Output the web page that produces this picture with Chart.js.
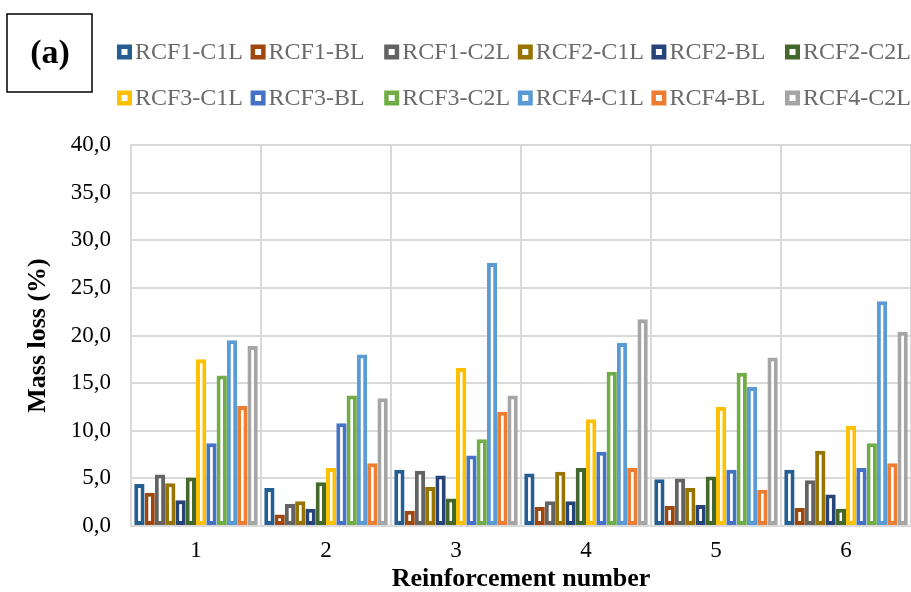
<!DOCTYPE html>
<html>
<head>
<meta charset="utf-8">
<script src="https://cdn.jsdelivr.net/npm/chart.js@4/dist/chart.umd.min.js"></script>
<style>
  html, body { margin: 0; padding: 0; background: #fff; }
  #wrap { width: 911px; height: 592px; }
</style>
</head>
<body>
<div id="wrap"><canvas id="massChart"></canvas></div>
<script>
const categories = ["1", "2", "3", "4", "5", "6"];

const rcf1C1L = [4.4, 4.0, 5.9, 5.5, 4.9, 5.9];
const rcf1BL  = [3.5, 1.2, 1.6, 2.0, 2.1, 1.9];
const rcf1C2L = [5.4, 2.3, 5.8, 2.6, 5.0, 4.8];
const rcf2C1L = [4.5, 2.6, 4.1, 5.7, 4.0, 7.9];
const rcf2BL  = [2.7, 1.8, 5.3, 2.6, 2.2, 3.3];
const rcf2C2L = [5.1, 4.6, 2.9, 6.1, 5.2, 1.8];
const rcf3C1L = [17.5, 6.1, 16.6, 11.2, 12.5, 10.5];
const rcf3BL  = [8.7, 10.8, 7.4, 7.8, 5.9, 6.1];
const rcf3C2L = [15.8, 13.7, 9.1, 16.2, 16.1, 8.7];
const rcf4C1L = [19.5, 18.0, 27.6, 19.2, 14.6, 23.6];
const rcf4BL  = [12.6, 6.6, 12.0, 6.1, 3.8, 6.6];
const rcf4C2L = [18.9, 13.4, 13.7, 21.7, 17.7, 20.4];

const yTicks = [0, 5, 10, 15, 20, 25, 30, 35, 40];

const serif = "'Liberation Serif', 'Times New Roman', serif";

function series(label, data, color) {
    return {
        label: label,
        data: data,
        backgroundColor: "#ffffff",
        borderColor: color,
        borderWidth: 4,
        borderSkipped: false,
        categoryPercentage: 0.95,
        barPercentage: 1.0
    };
}

// legend in two rows of six, columns aligned like the Excel original
const gridLegend = {
    id: "gridLegend",
    afterDraw(chart) {
        const ctx = chart.ctx;
        ctx.save();

        // "(a)" panel label
        ctx.strokeStyle = "#000";
        ctx.lineWidth = 1.5;
        ctx.strokeRect(7, 14, 85, 78);
        ctx.fillStyle = "#000";
        ctx.font = "bold 34px " + serif;
        ctx.textAlign = "center";
        ctx.textBaseline = "middle";
        ctx.fillText("(a)", 50, 54);

        ctx.textAlign = "left";
        ctx.font = "24px " + serif;
        chart.data.datasets.forEach((ds, i) => {
            const col = i % 6;
            const row = Math.floor(i / 6);
            const x = 117 + col * 133.6;
            const y = row === 0 ? 52 : 98;
            ctx.fillStyle = ds.borderColor;
            ctx.fillRect(x, y - 7.5, 15, 15);
            ctx.fillStyle = "#fff";
            ctx.fillRect(x + 4.5, y - 3, 6, 6);
            ctx.fillStyle = "#6a6a6a";
            ctx.fillText(ds.label, x + 18, y + 1);
        });
        ctx.restore();
    }
};

new Chart(document.getElementById("massChart"), {

    type: "bar",

    data: {
        labels: categories,
        datasets: [
            series("RCF1-C1L", rcf1C1L, "#255E91"),
            series("RCF1-BL", rcf1BL, "#9E480E"),
            series("RCF1-C2L", rcf1C2L, "#636363"),
            series("RCF2-C1L", rcf2C1L, "#997300"),
            series("RCF2-BL", rcf2BL, "#264478"),
            series("RCF2-C2L", rcf2C2L, "#43682B"),
            series("RCF3-C1L", rcf3C1L, "#FFC000"),
            series("RCF3-BL", rcf3BL, "#4472C4"),
            series("RCF3-C2L", rcf3C2L, "#70AD47"),
            series("RCF4-C1L", rcf4C1L, "#5B9BD5"),
            series("RCF4-BL", rcf4BL, "#ED7D31"),
            series("RCF4-C2L", rcf4C2L, "#A5A5A5")
        ]
    },

    options: {
        responsive: true,
        maintainAspectRatio: false,
        animation: false,
        layout: {
            padding: { top: 145, right: 0, bottom: 0, left: 0 }
        },
        plugins: {
            legend: { display: false },
            tooltip: { enabled: false }
        },
        scales: {
            x: {
                grid: {
                    color: "#d9d9d9",
                    lineWidth: 2,
                    drawTicks: false
                },
                border: { color: "#d9d9d9", width: 2 },
                ticks: {
                    color: "#000",
                    font: { family: serif, size: 23 },
                    padding: 11
                },
                title: {
                    display: true,
                    text: "Reinforcement number",
                    color: "#000",
                    font: { family: serif, size: 26, weight: "bold", lineHeight: 1 },
                    padding: { top: 0, bottom: 0 }
                },
                afterFit(scale) { scale.height = 66; }
            },
            y: {
                min: 0,
                max: 40,
                afterBuildTicks(scale) {
                    scale.ticks = yTicks.map(v => ({ value: v }));
                },
                grid: {
                    color: "#d9d9d9",
                    lineWidth: 2,
                    drawTicks: false
                },
                border: { color: "#d9d9d9", width: 2 },
                ticks: {
                    color: "#000",
                    font: { family: serif, size: 23 },
                    padding: 20,
                    callback: v => v.toFixed(1).replace(".", ",")
                },
                title: {
                    display: true,
                    text: "Mass loss (%)",
                    color: "#000",
                    font: { family: serif, size: 26, weight: "bold", lineHeight: 1.2 },
                    padding: { top: 23, bottom: 0 }
                },
                afterFit(scale) { scale.width = 131; }
            }
        }
    },

    plugins: [gridLegend]

});
</script>
</body>
</html>
